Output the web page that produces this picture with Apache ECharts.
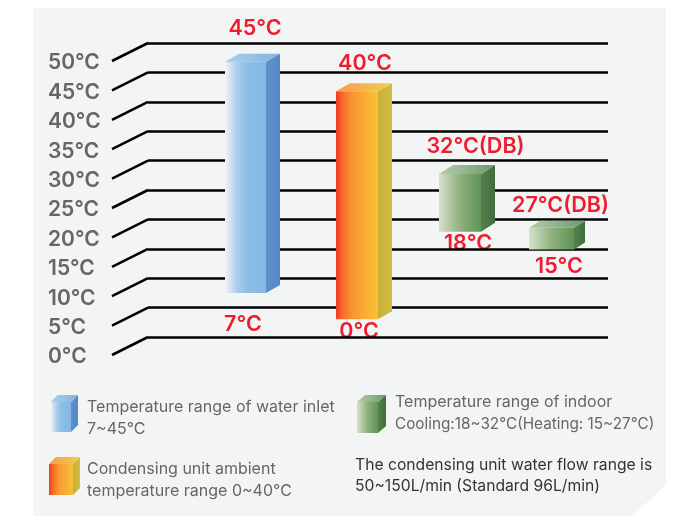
<!DOCTYPE html>
<html>
<head>
<meta charset="utf-8">
<title>Operating temperature range</title>
<style>
html, body { margin: 0; padding: 0; background: #fff; }
#chart { width: 695px; height: 516px; }
</style>
<script src="https://cdn.jsdelivr.net/npm/echarts@6/dist/echarts.min.js"></script>
</head>
<body>
<div id="chart"></div>
<script>
// Values as drawn against the gridlines (the boxes do not sit exactly on their printed labels)
const CATEGORIES = ["Water inlet", "Ambient", "Indoor cooling", "Indoor heating"];
const BAR_LOW = [7.5, 3, 17.9, 14.9];
const BAR_HIGH = [46.8, 41.8, 27.7, 18.6];
const TOP_LABELS = ["45°C", "40°C", "32°C(DB)", "27°C(DB)"];
const BOTTOM_LABELS = ["7°C", "0°C", "18°C", "15°C"];
const Y_TICKS = [0, 5, 10, 15, 20, 25, 30, 35, 40, 45, 50];

const FONT = "Inter, 'Noto Sans', sans-serif";
const RED = "#ee1c2e";

function grad(stops) {
	return new echarts.graphic.LinearGradient(0, 0, 1, 0, stops.map((c, i) => {
		return { offset: c[1] !== undefined ? c[1] : i / (stops.length - 1), color: c[0] };
	}));
}

const BLUE = {
	front: [["#fdeef6", 0], ["#d5e3f2", 0.12], ["#a8cdec", 0.3], ["#8bbee7", 0.55], ["#86b8e3", 1]],
	side: [["#5b90cc", 0], ["#5489c6", 1]],
	top: [["#a9d0ee", 0], ["#84b2de", 1]],
};
const ORANGE = {
	front: [["#f13a24", 0], ["#f66a2a", 0.15], ["#fa9632", 0.4], ["#f8c238", 1]],
	side: [["#c9ae3a", 0], ["#cfbd3e", 1]],
	top: [["#f89c50", 0], ["#f0cf48", 1]],
};
const GREEN = {
	front: [["#d6e2ca", 0], ["#8fb180", 0.5], ["#5f9355", 1]],
	side: [["#55814b", 0], ["#3f6d3c", 1]],
	top: [["#b7cdaa", 0], ["#6c9870", 1]],
};

// per-box layout: offset from the category centre, front width, depth, label nudges
const BAR_LAYOUT = [
	{ dx: 40, w: 41, depthX: 14, depthY: 8, paint: BLUE, topLabel: [9.5, -33], bottomLabel: [-2.5, 31.5] },
	{ dx: 36.5, w: 42, depthX: 14, depthY: 8, paint: ORANGE, topLabel: [8, -28], bottomLabel: [2, 12] },
	{ dx: 24.5, w: 42, depthX: 14, depthY: 9, paint: GREEN, topLabel: [15.5, -28], bottomLabel: [8, 11.5] },
	{ dx: 1, w: 45, depthX: 11, depthY: 7, paint: GREEN, topLabel: [9, -22], bottomLabel: [7.5, 17.5] },
];

// the three faces of a box, front face given in pixels
function boxFaces(x0, x1, yTop, yBot, depthX, depthY, paint) {
	return [
		{ type: "polygon", shape: { points: [[x0, yTop], [x1, yTop], [x1, yBot], [x0, yBot]] }, style: { fill: grad(paint.front) } },
		{ type: "polygon", shape: { points: [[x1, yTop], [x1 + depthX, yTop - depthY], [x1 + depthX, yBot - depthY], [x1, yBot]] }, style: { fill: grad(paint.side) } },
		{ type: "polygon", shape: { points: [[x0, yTop], [x0 + depthX, yTop - depthY], [x1 + depthX, yTop - depthY], [x1, yTop]] }, style: { fill: grad(paint.top) } },
	];
}

function legendText(x, y, text, color, size) {
	return {
		type: "text", x, y,
		style: { text, fill: color, font: "400 " + size + "px " + FONT, textVerticalAlign: "middle" },
	};
}

const ch = echarts.init(document.getElementById("chart"));

ch.setOption({
	animation: false,
	backgroundColor: "#fff",
	// second grid is the same scale dropped to the front edge, it only carries the tick labels
	grid: [
		{ left: 148, width: 460, top: 43, height: 294 },
		{ left: 148, width: 460, top: 63, height: 294 },
	],
	xAxis: [
		{ type: "category", data: CATEGORIES, show: false },
		{ type: "category", data: CATEGORIES, show: false, gridIndex: 1 },
	],
	yAxis: [
		{
			type: "value",
			min: 0,
			max: 50,
			interval: 5,
			z: 1,
			axisLine: { show: false },
			axisTick: { show: false },
			axisLabel: { show: false },
			splitLine: { lineStyle: { color: "#000", width: 2.6 } },
		},
		{
			type: "value",
			gridIndex: 1,
			min: 0,
			max: 50,
			interval: 5,
			axisLine: { show: false },
			axisTick: { show: false },
			splitLine: { show: false },
			axisLabel: {
				formatter: "{value}°C",
				align: "left",
				margin: 100,
				showMinLabel: true,
				showMaxLabel: true,
				color: "#666",
				fontFamily: FONT,
				fontWeight: 600,
				fontSize: 21,
			},
		},
	],
	graphic: [
		{ type: "polygon", z: -10, shape: { points: [[33, 8], [666, 8], [666, 485], [632, 516], [33, 516]] }, style: { fill: "#f3f5f5" } },
		{ type: "group", children: boxFaces(50.5, 71, 402, 432, 7, 7, BLUE) },
		{ type: "group", children: boxFaces(49, 73, 464, 495, 7, 7, ORANGE) },
		{ type: "group", children: boxFaces(357, 378, 402, 433, 8, 7, GREEN) },
		legendText(87, 407, "Temperature range of water inlet", "#666", 16),
		legendText(87, 429, "7~45°C", "#666", 16),
		legendText(87, 469, "Condensing unit ambient", "#666", 16),
		legendText(87, 491, "temperature range 0~40°C", "#666", 16),
		legendText(395, 402, "Temperature range of indoor", "#666", 16),
		legendText(395, 424, "Cooling:18~32°C(Heating: 15~27°C)", "#666", 15.3),
		legendText(355, 465, "The condensing unit water flow range is", "#333", 15.7),
		legendText(355, 486, "50~150L/min (Standard 96L/min)", "#333", 15.7),
	],
	series: [
		{
			// slanted part of each gridline, running down to its label
			type: "custom",
			z: 1,
			silent: true,
			data: Y_TICKS,
			encode: { y: 0 },
			renderItem: (params, api) => {
				const y = api.coord([0, api.value(0)])[1];
				return {
					type: "line",
					shape: { x1: 148, y1: y, x2: 112, y2: y + 18 },
					style: { stroke: "#000", lineWidth: 2.6 },
				};
			},
		},
		{
			// printed values sit under the gridlines, the lines cut across some of them
			type: "custom",
			z: 0,
			silent: true,
			data: CATEGORIES.map((c, i) => [i, BAR_LOW[i], BAR_HIGH[i]]),
			renderItem: (params, api) => {
				const i = api.value(0);
				const lay = BAR_LAYOUT[i];
				const cx = api.coord([i, 0])[0] + lay.dx;
				const yLow = api.coord([i, api.value(1)])[1];
				const yHigh = api.coord([i, api.value(2)])[1];
				const label = (text, x, y) => ({
					type: "text",
					x, y,
					style: { text, fill: RED, font: "600 21.5px " + FONT, textAlign: "center", textVerticalAlign: "middle" },
				});
				return {
					type: "group",
					children: [
						label(TOP_LABELS[i], cx + lay.topLabel[0], yHigh + lay.topLabel[1]),
						label(BOTTOM_LABELS[i], cx + lay.bottomLabel[0], yLow + lay.bottomLabel[1]),
					],
				};
			},
		},
		{
			type: "custom",
			z: 2,
			silent: true,
			data: CATEGORIES.map((c, i) => [i, BAR_LOW[i], BAR_HIGH[i]]),
			renderItem: (params, api) => {
				const i = api.value(0);
				const lay = BAR_LAYOUT[i];
				const cx = api.coord([i, 0])[0] + lay.dx;
				const yLow = api.coord([i, api.value(1)])[1];
				const yHigh = api.coord([i, api.value(2)])[1];
				return {
					type: "group",
					children: boxFaces(cx - lay.w / 2, cx + lay.w / 2, yHigh, yLow, lay.depthX, lay.depthY, lay.paint),
				};
			},
		},
	],
});
</script>
</body>
</html>
